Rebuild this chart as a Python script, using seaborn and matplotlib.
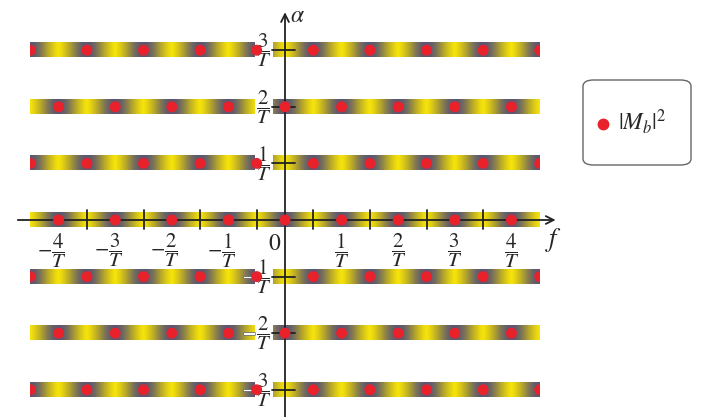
import numpy as np
import pandas as pd
import seaborn as sns
import matplotlib.pyplot as plt
import matplotlib.patheffects as pe
from matplotlib.colors import LinearSegmentedColormap
from matplotlib.patches import Rectangle, FancyBboxPatch

# rows of the lattice (alpha in units of 1/T)
rows = [3, 2, 1, 0, -1, -2, -3]
row_labels = [r'$\dfrac{3}{T}$', r'$\dfrac{2}{T}$', r'$\dfrac{1}{T}$', None,
              r'$\dfrac{1}{T}$', r'$\dfrac{2}{T}$', r'$\dfrac{3}{T}$']

# dot positions along f (units of 1/T)
int_pos = [-4, -3, -2, -1, 0, 1, 2, 3, 4]
half_pos = [-4.5, -3.5, -2.5, -1.5, -0.5, 0.5, 1.5, 2.5, 3.5, 4.5]

# f axis tick labels
f_ticks = [-4, -3, -2, -1, 0, 1, 2, 3, 4]
f_tick_labels = [r'$-\dfrac{4}{T}$', r'$-\dfrac{3}{T}$', r'$-\dfrac{2}{T}$', r'$-\dfrac{1}{T}$',
                 r'$0$', r'$\dfrac{1}{T}$', r'$\dfrac{2}{T}$', r'$\dfrac{3}{T}$', r'$\dfrac{4}{T}$']
f_minor = [-3.5, -2.5, -1.5, -0.5, 0.5, 1.5, 2.5, 3.5]

legend_label = r'$|M_b|^2$'

sns.set_style('white')
plt.rcParams['mathtext.fontset'] = 'stix'
plt.rcParams['font.family'] = ['DejaVu Sans']

RED = '#e8212b'
band_cmap = LinearSegmentedColormap.from_list('band', ['#f6e30a', '#b3a42c', '#5c5770'])

fig = plt.figure(figsize=(7.02, 4.17), dpi=100)
ax = fig.add_axes([0, 0, 1, 1])
ax.set_xlim(-285 / 56.6, (702 - 285) / 56.6)
ax.set_ylim(-(417 - 220) / 56.6, 220 / 56.6)
ax.axis('off')

half_h = 0.125
fx = np.linspace(-4.5, 4.5, 900)
for r, lab in zip(rows, row_labels):
    pos = half_pos if r % 2 else int_pos
    off = 0.5 if r % 2 else 0.0
    # shading: gray at the dots, yellow half way between them
    shade = np.abs(np.cos(np.pi * (fx - off))) ** 1.3
    ax.imshow(shade[None, :], cmap=band_cmap, vmin=0, vmax=1, aspect='auto',
              extent=[-4.5, 4.5, r - half_h, r + half_h], zorder=1, interpolation='bilinear')
    df = pd.DataFrame({'f': pos, 'alpha': [r] * len(pos)})
    sns.scatterplot(data=df, x='f', y='alpha', ax=ax, color=RED, s=62,
                    edgecolor='none', zorder=4, legend=False)
    clip = Rectangle((-4.5, r - 0.3), 9, 0.6, transform=ax.transData)
    ax.collections[-1].set_clip_path(clip)
    if lab is not None:
        ax.text(-0.24, r, lab, ha='right', va='center', fontsize=15, zorder=3,
                bbox=dict(facecolor='white', edgecolor='none', pad=1))
        ax.plot([-0.23, 0.18], [r, r], color='#222222', lw=1.3, zorder=3)
        if r < 0:
            # minus sign sits on the band, drawn light with a dark rim
            ax.text(-0.62, r, r'$-$', ha='center', va='center', fontsize=15, color='white',
                    zorder=3, path_effects=[pe.withStroke(linewidth=1.2, foreground='#777777')])

# axes with arrows
ax.annotate('', xy=(4.83, 0), xytext=(-4.77, 0),
            arrowprops=dict(arrowstyle='->', color='#222222', lw=1.3, mutation_scale=14), zorder=3)
ax.annotate('', xy=(0, 3.72), xytext=(0, -3.6),
            arrowprops=dict(arrowstyle='->', color='#222222', lw=1.3, mutation_scale=14), zorder=3)
for t in f_minor:
    ax.plot([t, t], [-0.16, 0.17], color='#222222', lw=1.3, zorder=3)

for t, lab in zip(f_ticks, f_tick_labels):
    if t == 0:
        ax.text(-0.18, -0.4, lab, ha='center', va='center', fontsize=17, zorder=3)
    else:
        ax.text(t - (0.12 if t < 0 else 0), -0.54, lab, ha='center', va='center', fontsize=15, zorder=3)

ax.text(0.22, 3.62, r'$\alpha$', fontsize=17, ha='center', va='center')
ax.text(4.75, -0.35, r'$f$', fontsize=19, ha='center', va='center')

# legend box drawn by hand (pixel positions converted to axes fractions)
box = FancyBboxPatch((583 / 702, 1 - 165 / 417), 108 / 702, 85 / 417,
                     boxstyle='round,pad=0,rounding_size=0.015', transform=ax.transAxes,
                     facecolor='white', edgecolor='#666666', lw=1.0, zorder=5)
ax.add_patch(box)
ax.plot([603 / 702], [1 - 124 / 417], 'o', color=RED, markersize=7.5,
        transform=ax.transAxes, zorder=6)
ax.text(618 / 702, 1 - 122 / 417, legend_label, fontsize=17, ha='left', va='center',
        transform=ax.transAxes, zorder=6)

fig.savefig('out.png', dpi=100)
